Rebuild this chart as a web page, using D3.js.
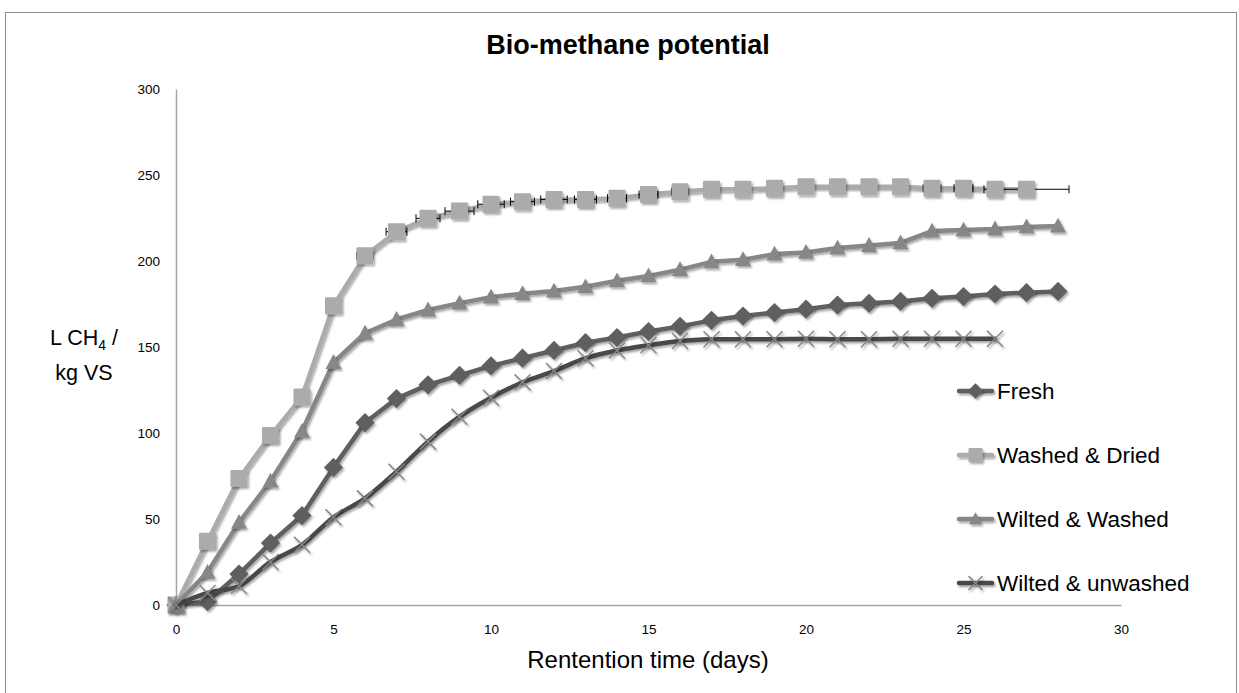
<!DOCTYPE html>
<html>
<head>
<meta charset="utf-8">
<script src="https://cdn.jsdelivr.net/npm/d3@7"></script>
<style>
  html, body { margin: 0; padding: 0; background: #fff; }
  svg { display: block; }
  text { font-family: "Liberation Sans", Arial, sans-serif; fill: #000; }
</style>
</head>
<body>
<svg id="chart" width="1239" height="693"></svg>
<script>
// ---------- data ----------
const days = [0,1,2,3,4,5,6,7,8,9,10,11,12,13,14,15,16,17,18,19,20,21,22,23,24,25,26,27,28];
const seriesNames = ["Fresh", "Washed & Dried", "Wilted & Washed", "Wilted & unwashed"];
const fresh = [0,2,18,36,52,80,106,120,128,133.5,139,143.5,148,152.5,155.5,159,162,165.5,168,170,172,174.4,175.4,176.5,178.3,179.3,180.8,181.6,182.3];
const washedDried = [0,37,73.5,98.5,121,174,203,217,224.8,229,233,234.5,235.8,235.8,236.5,238.6,240.3,241.7,241.7,242.3,243.2,243.2,243.2,243.2,242.3,242.3,241.7,241.7];
const washedDriedErr = [0,0,0,0,0,0.22,0.26,0.33,0.38,0.46,0.42,0.38,0.42,0.35,0.3,0.3,0.27,0,0,0,0,0,0,0,0.28,0.3,0,1.35];
const wiltedWashed = [0,19,48,72,101,141,158,166,171.5,175.5,179,181,182.5,185,188.5,191.3,195,199.5,200.8,204,205,207.5,209,210.5,217.4,218,218.6,219.8,220.3];
const wiltedUnwashed = [0,7,11,25,35,51,62,77.5,95,109.5,120.5,129.5,136,143.5,148,151,153.5,154.5,154.5,154.5,154.8,154.5,154.5,154.8,154.8,154.8,154.8];
const xTicks = [0,5,10,15,20,25,30];
const yTicks = [0,50,100,150,200,250,300];
const titleText = "Bio-methane potential";
const xTitle = "Rentention time (days)";

// ---------- setup ----------
const svg = d3.select("#chart");
const defs = svg.append("defs");
const f = defs.append("filter").attr("id","shadow").attr("filterUnits","userSpaceOnUse")
  .attr("x",0).attr("y",0).attr("width",1239).attr("height",693);
f.append("feDropShadow").attr("dx",1.5).attr("dy",2).attr("stdDeviation",1.3).attr("flood-color","#000").attr("flood-opacity",0.35);

// outer frame
svg.append("rect").attr("x",5.5).attr("y",12.5).attr("width",1231).attr("height",700)
  .attr("fill","none").attr("stroke","#8c8c8c").attr("stroke-width",1);

const x = d3.scaleLinear().domain([0,30]).range([176,1121]);
const y = d3.scaleLinear().domain([0,300]).range([605,89]);

// title
svg.append("text").attr("x",628).attr("y",54).attr("text-anchor","middle")
  .attr("font-size",27).attr("font-weight","bold").text(titleText);

// axes
const xAxis = svg.append("g").attr("transform",`translate(0,${y(0)})`)
  .call(d3.axisBottom(x).tickValues(xTicks).tickSize(0).tickPadding(19).tickFormat(d3.format("d")));
const yAxis = svg.append("g").attr("transform",`translate(${x(0)},0)`)
  .call(d3.axisLeft(y).tickValues(yTicks).tickSize(0).tickPadding(16).tickFormat(d3.format("d")));
[xAxis,yAxis].forEach(g=>{
  g.select(".domain").attr("stroke","#a6a6a6").attr("stroke-width",1.5);
  g.selectAll("text").attr("font-family","Liberation Sans, Arial, sans-serif").attr("font-size",13.5).attr("fill","#000");
});

// axis titles
svg.append("text").attr("x",648).attr("y",668).attr("text-anchor","middle").attr("font-size",24).text(xTitle);
const yt = svg.append("text").attr("x",84).attr("y",345).attr("text-anchor","middle").attr("font-size",21.5);
yt.append("tspan").text("L CH");
yt.append("tspan").attr("font-size",14).attr("dy",5).text("4");
yt.append("tspan").attr("dy",-5).text(" /");
svg.append("text").attr("x",84).attr("y",380).attr("text-anchor","middle").attr("font-size",21.5).text("kg VS");

// ---------- series ----------
const series = [
  {name: seriesNames[0], vals: fresh, color:"#5e5e5e", marker:"diamond", curve:d3.curveLinear},
  {name: seriesNames[1], vals: washedDried, color:"#ababab", marker:"square", curve:d3.curveLinear, err: washedDriedErr},
  {name: seriesNames[2], vals: wiltedWashed, color:"#878787", marker:"triangle", curve:d3.curveLinear},
  {name: seriesNames[3], vals: wiltedUnwashed, color:"#484848", marker:"x", curve:d3.curveCatmullRom.alpha(0.5), mcolor:"#858585"}
];

function drawMarker(g, type, cx, cy, s, color, mcolor){
  if(type==="diamond"){
    const r = s*0.6;
    g.append("path").attr("d",`M${cx},${cy-r}L${cx+r},${cy}L${cx},${cy+r}L${cx-r},${cy}Z`).attr("fill",color);
  } else if(type==="square"){
    const h = s/2;
    g.append("rect").attr("x",cx-h).attr("y",cy-h).attr("width",s).attr("height",s).attr("rx",1).attr("fill",color);
  } else if(type==="triangle"){
    const h = s*0.5;
    g.append("path").attr("d",`M${cx},${cy-h*1.05}L${cx+h},${cy+h*0.8}L${cx-h},${cy+h*0.8}Z`).attr("fill",color);
  } else if(type==="x"){
    const h = s/2;
    g.append("path").attr("d",`M${cx-h},${cy-h}L${cx+h},${cy+h}M${cx-h},${cy+h}L${cx+h},${cy-h}`)
      .attr("stroke",mcolor||color).attr("stroke-width",1.5).attr("fill","none");
  }
}

series.forEach(s=>{
  const g = svg.append("g");
  const pts = s.vals.map((v,i)=>[days[i], v]);
  const line = d3.line().x(d=>x(d[0])).y(d=>y(d[1])).curve(s.curve);
  g.append("path").attr("d", line(pts)).attr("fill","none").attr("stroke", s.color)
    .attr("stroke-width",4.5).attr("stroke-linejoin","round").attr("stroke-linecap","round")
    .attr("filter","url(#shadow)");
  if(s.err){
    const eg = g.append("g").attr("stroke","#000").attr("stroke-width",1);
    pts.forEach((p,i)=>{
      const e = s.err[i];
      if(!e) return;
      const cy = y(p[1]);
      const x1 = x(p[0]-e), x2 = x(p[0]+e);
      eg.append("line").attr("x1",x1).attr("x2",x2).attr("y1",cy).attr("y2",cy);
      eg.append("line").attr("x1",x1).attr("x2",x1).attr("y1",cy-4).attr("y2",cy+4);
      eg.append("line").attr("x1",x2).attr("x2",x2).attr("y1",cy-4).attr("y2",cy+4);
    });
  }
  const mg = g.append("g").attr("filter","url(#shadow)");
  pts.forEach(p=>{
    drawMarker(mg, s.marker, x(p[0]), y(p[1]), s.marker==="x"?16:(s.marker==="square"?17:16), s.color, s.mcolor);
  });
});

// ---------- legend ----------
const legendY = [391, 455, 519, 583];
series.forEach((s,i)=>{
  const g = svg.append("g");
  const ly = legendY[i];
  g.append("line").attr("x1",959).attr("x2",992).attr("y1",ly).attr("y2",ly)
    .attr("stroke",s.color).attr("stroke-width",4.5).attr("stroke-linecap","round").attr("filter","url(#shadow)");
  const mg = g.append("g").attr("filter","url(#shadow)");
  drawMarker(mg, s.marker, 975.5, ly, s.marker==="x"?14:(s.marker==="square"?14:13), s.color, s.mcolor);
  g.append("text").attr("x",997).attr("y",ly+8).attr("font-size",22.5).text(s.name);
});
</script>
</body>
</html>
